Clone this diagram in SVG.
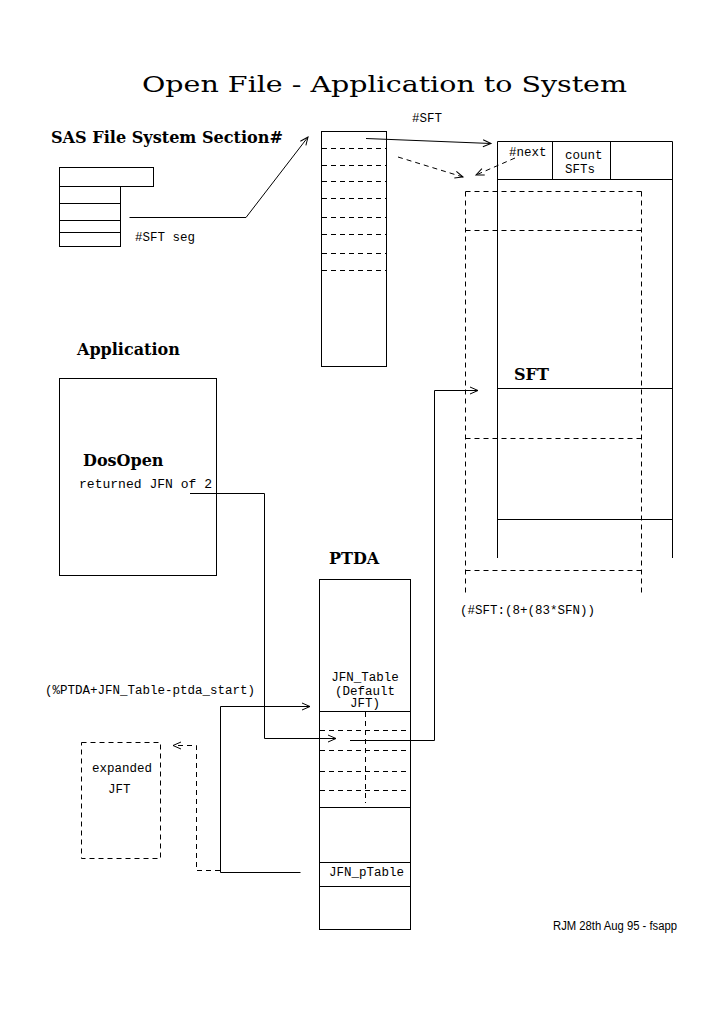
<svg xmlns="http://www.w3.org/2000/svg" width="717" height="1011" viewBox="0 0 717 1011">
<style>
.ln{fill:none;stroke:#000;stroke-width:1}
.ds{fill:none;stroke:#000;stroke-width:1;stroke-dasharray:5 4}
.ti{font-family:"DejaVu Serif","Liberation Serif",serif;font-size:22px;fill:#000}
.hd{font-family:"DejaVu Serif","Liberation Serif",serif;font-size:16px;font-weight:bold;fill:#000}
.mo{font-family:"Liberation Mono","DejaVu Sans Mono",monospace;font-size:12.5px;fill:#000}
.sn{font-family:"Liberation Sans",Arial,sans-serif;font-size:12px;fill:#000}
</style>
<defs>
<marker id="ah" viewBox="-10 -5 12 10" refX="0" refY="0" markerWidth="12" markerHeight="10" markerUnits="userSpaceOnUse" orient="auto">
<path d="M-8,-3.5 L0,0 L-8,3.5" fill="none" stroke="#000" stroke-width="1"/>
</marker>
</defs>
<rect width="717" height="1011" fill="#fff"/>
<text class="ti" x="142" y="92" textLength="485" lengthAdjust="spacingAndGlyphs">Open File - Application to System</text>

<g id="sas">
<text class="hd" x="51" y="143" textLength="232" lengthAdjust="spacingAndGlyphs">SAS File System Section#</text>
<rect class="ln" x="59.5" y="167.5" width="94" height="19"/>
<rect class="ln" x="59.5" y="186.5" width="61" height="60"/>
<path class="ln" d="M59.5,203.5H120.5M59.5,220.5H120.5M59.5,232.5H120.5"/>
<text class="mo" x="135" y="241">#SFT seg</text>
</g>

<g id="sftseg">
<text class="mo" x="412" y="122">#SFT</text>
<rect class="ln" x="321.5" y="131.5" width="65" height="235"/>
<path class="ds" d="M322,148.5H386M322,165.5H386M322,181.5H386M322,198.5H386M322,217.5H386M322,234.5H386M322,253.5H386M322,270.5H386"/>
</g>

<g id="sft">
<path class="ln" d="M497.5,141.5H672.5M497.5,141.5V558M672.5,141.5V558M552.5,141.5V179.5M610.5,141.5V179.5M497.5,179.5H672.5M497.5,388.5H672.5M497.5,519.5H672.5"/>
<text class="mo" x="509" y="156">#next</text>
<text class="mo" x="565" y="159">count</text>
<text class="mo" x="565" y="173">SFTs</text>
<text class="hd" x="514" y="380">SFT</text>
<path class="ds" d="M465.5,191.5H641.5M465.5,230.5H641.5M465.5,438.5H641.5M465.5,570.5H641.5M465.5,191.5V594M641.5,191.5V594"/>
<text class="mo" x="460" y="614" textLength="135" lengthAdjust="spacingAndGlyphs">(#SFT:(8+(83*SFN))</text>
</g>

<g id="application">
<text class="hd" x="77" y="355">Application</text>
<rect class="ln" x="59.5" y="378.5" width="157" height="197"/>
<text class="hd" x="83" y="466">DosOpen</text>
<text class="mo" x="79" y="488" textLength="133" lengthAdjust="spacingAndGlyphs">returned JFN of 2</text>
</g>

<g id="ptda">
<text class="hd" x="329" y="564">PTDA</text>
<rect class="ln" x="319.5" y="579.5" width="91" height="350"/>
<path class="ln" d="M319.5,711.5H410.5M319.5,807.5H410.5M319.5,862.5H410.5M319.5,886.5H410.5"/>
<path class="ds" d="M320,730.5H410M320,750.5H410M320,771.5H410M320,790.5H410M365.5,712V803"/>
<text class="mo" x="365" y="681" text-anchor="middle">JFN_Table</text>
<text class="mo" x="365" y="695" text-anchor="middle">(Default</text>
<text class="mo" x="365" y="707" text-anchor="middle">JFT)</text>
<text class="mo" x="329" y="876">JFN_pTable</text>
<text class="mo" x="45" y="694" textLength="210" lengthAdjust="spacingAndGlyphs">(%PTDA+JFN_Table-ptda_start)</text>
</g>

<g id="expanded">
<rect class="ds" x="81.5" y="742.5" width="79" height="116"/>
<text class="mo" x="92" y="772">expanded</text>
<text class="mo" x="108" y="793">JFT</text>
</g>

<g id="connectors">
<polyline class="ln" points="129.5,217.5 246,217.5 308,137" marker-end="url(#ah)"/>
<polyline class="ln" points="366,138.5 491,143.5" marker-end="url(#ah)"/>
<polyline class="ds" points="398,157 463,177" marker-end="url(#ah)"/>
<polyline class="ds" points="515,158 476,175" marker-end="url(#ah)"/>
<polyline class="ln" points="350,740.5 434.5,740.5 434.5,390.5 478,390.5" marker-end="url(#ah)"/>
<polyline class="ln" points="190,493.5 264.5,493.5 264.5,738.5 336,738.5" marker-end="url(#ah)"/>
<polyline class="ln" points="300.5,872.5 220.5,872.5 220.5,706.5 310,706.5" marker-end="url(#ah)"/>
<polyline class="ds" points="220,870.5 196.5,870.5 196.5,745.5 173,745.5" marker-end="url(#ah)"/>
</g>

<text class="sn" x="553" y="930" textLength="124" lengthAdjust="spacingAndGlyphs">RJM 28th Aug 95 - fsapp</text>
</svg>
